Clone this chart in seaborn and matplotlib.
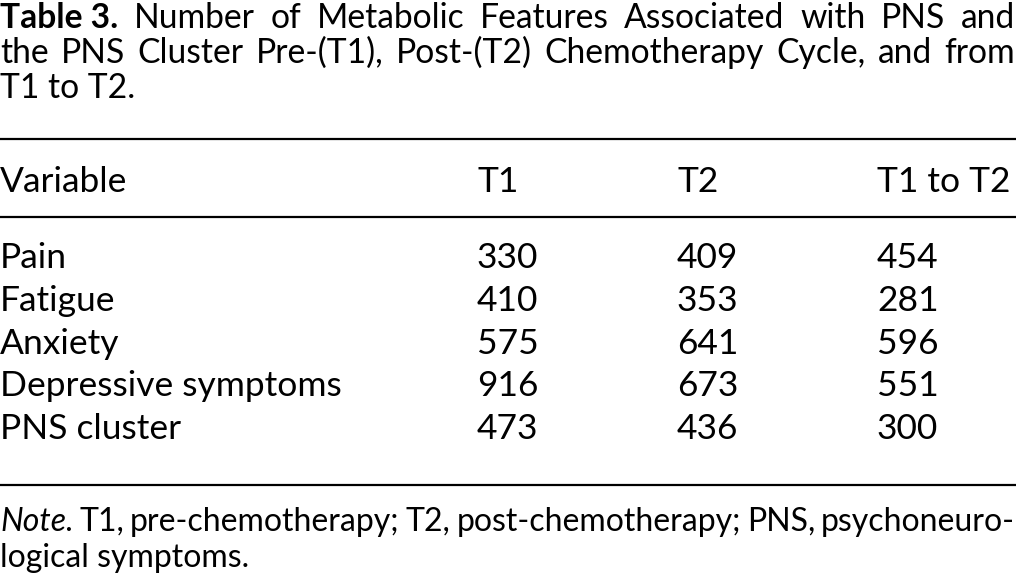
import matplotlib
matplotlib.use("Agg")
import matplotlib.pyplot as plt
import seaborn as sns

# ---- data ----
title_bold = "Table 3."
title_line1 = "Number of Metabolic Features Associated with PNS and"
title_line2 = "the PNS Cluster Pre-(T1), Post-(T2) Chemotherapy Cycle, and from"
title_line3 = "T1 to T2."
headers = ["Variable", "T1", "T2", "T1 to T2"]
variables = ["Pain", "Fatigue", "Anxiety", "Depressive symptoms", "PNS cluster"]
t1_values = [330, 410, 575, 916, 473]
t2_values = [409, 353, 641, 673, 436]
t1_to_t2_values = [454, 281, 596, 551, 300]
note_label = "Note."
note_line1 = "T1, pre-chemotherapy; T2, post-chemotherapy; PNS, psychoneuro-"
note_line2 = "logical symptoms."

sns.set_theme(style="white")
plt.rcParams["font.family"] = ["Lato", "DejaVu Sans"]

W, H = 1016, 582
fig = plt.figure(figsize=(W / 100, H / 100), dpi=100)
ax = fig.add_axes([0, 0, 1, 1])
ax.set_xlim(0, W)
ax.set_ylim(H, 0)
ax.axis("off")
fig.patch.set_facecolor("white")

TXT = "#000000"
FS_TITLE = 24.2
FS_NOTE = 23.0
FS_BODY = 25.5
fig.canvas.draw()
renderer = fig.canvas.get_renderer()


def justified(words, y, x0, x1, fs):
    """words: list of (text, kwargs)"""
    objs = []
    for w, kw in words:
        t = ax.text(0, y, w, fontsize=fs, va="baseline", ha="left", color=TXT, **kw)
        objs.append(t)
    widths = [o.get_window_extent(renderer).width for o in objs]
    gap = (x1 - x0 - sum(widths)) / (len(objs) - 1)
    x = x0
    for o, wd in zip(objs, widths):
        o.set_x(x)
        x += wd + gap


# title
justified([(title_bold, {"fontweight": "bold"})] + [(w, {}) for w in title_line1.split()],
          28, 0, 1015, FS_TITLE)
justified([(w, {}) for w in title_line2.split()], 63, 0, 1015, FS_TITLE)
ax.text(0, 98, title_line3, fontsize=FS_TITLE, va="baseline", color=TXT)

# rules
for yy in (139, 217, 485):
    ax.plot([0, W], [yy, yy], color="#000000", lw=1.6, solid_capstyle="butt")

col_x = [0, 477, 677, 877]
for x, h in zip(col_x, headers):
    ax.text(x, 192, h, fontsize=FS_BODY, va="baseline", color=TXT)

row_y0, row_dy = 268, 42.75
for i, (v, a, b, c) in enumerate(zip(variables, t1_values, t2_values, t1_to_t2_values)):
    y = row_y0 + i * row_dy
    for x, s in zip(col_x, [v, str(a), str(b), str(c)]):
        ax.text(x, y, s, fontsize=FS_BODY, va="baseline", color=TXT)

# note
justified([(note_label, {"fontstyle": "italic"})] + [(w, {}) for w in note_line1.split()],
          531, 0, 1015, FS_NOTE)
ax.text(0, 567, note_line2, fontsize=FS_NOTE, va="baseline", color=TXT)

fig.savefig("out.png", dpi=100, facecolor="white")
